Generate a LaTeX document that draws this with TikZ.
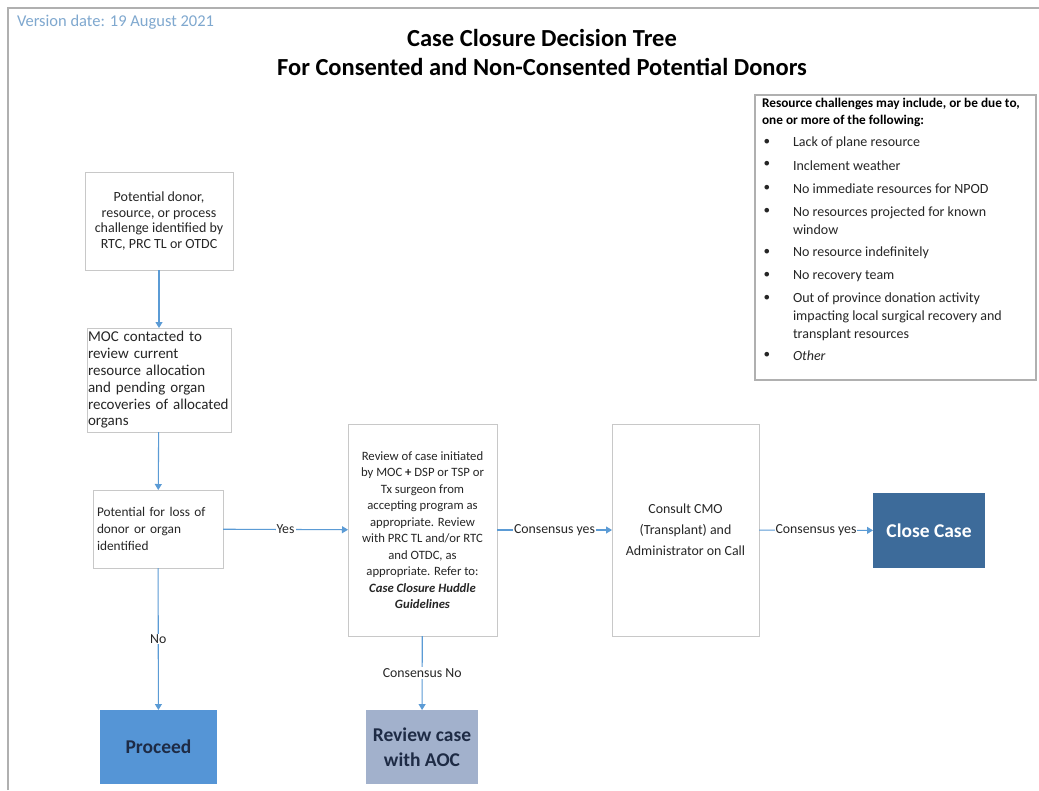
\documentclass[tikz,border=0pt]{standalone}
\usepackage{fontspec}
\setmainfont{Carlito}
\usetikzlibrary{arrows.meta,shadows}
\definecolor{lineblue}{HTML}{5B9BD5}
\definecolor{framegray}{HTML}{B0B0B0}
\definecolor{boxgray}{HTML}{C8C8C8}
\definecolor{verblue}{HTML}{7FA8CF}
\definecolor{procblue}{HTML}{5595D6}
\definecolor{procnavy}{HTML}{1E2B45}
\definecolor{closeblue}{HTML}{3D6B9A}
\definecolor{aocgray}{HTML}{A2B1CC}
\definecolor{txt}{HTML}{262626}
\begin{document}
\begin{tikzpicture}[x=1pt,y=-1pt,
  every node/.style={inner sep=0pt,outer sep=0pt,text=txt},
  wbox/.style={draw=boxgray,line width=0.8pt,fill=white,
     drop shadow={shadow xshift=1.2pt,shadow yshift=-1.2pt,fill=black!18,opacity=0.6},
     font=\fontsize{13.4}{17}\selectfont},
  flow/.style={draw=lineblue,line width=1.1pt,-{Triangle[width=7pt,length=6pt]}},
  lab/.style={fill=white,inner sep=1pt,font=\fontsize{13.8}{15}\selectfont},
  endbox/.style={font=\bfseries\fontsize{19.5}{25}\selectfont,align=center},
  legtxt/.style={anchor=west,font=\fontsize{14}{18}\selectfont,align=left},
  bul/.style={anchor=center,font=\fontsize{10}{12}\selectfont}
]
\useasboundingbox (0,0) rectangle (1039,790);
\fill[white] (0,0) rectangle (1039,790);
% page frame
\draw[framegray,line width=1.5pt] (8,790) coordinate (fbl) -- (8,8) coordinate (ftl) -- (1039,8) coordinate (ftr);

\node[anchor=west,text=verblue,font=\fontsize{16.5}{18}\selectfont] (ver) at (17,22) {Version date: 19 August 2021};
\node[font=\bfseries\fontsize{24.5}{29}\selectfont,align=center,text=black] (title) at (542,52)
  {Case Closure Decision Tree\\For Consented and Non-Consented Potential Donors};

% flow boxes
\node[wbox,minimum width=148pt,minimum height=98pt,align=center,font=\fontsize{14}{15.6}\selectfont] (b1) at (159,221)
  {Potential donor,\\resource, or process\\challenge identified by\\RTC, PRC TL or OTDC};
\node[wbox,minimum width=144pt,minimum height=104pt,text width=142pt,align=left,font=\fontsize{15}{16.8}\selectfont] (b2) at (159,380)
  {MOC contacted to\\review current\\resource allocation\\and pending organ\\recoveries of allocated\\organs};
\node[wbox,minimum width=130pt,minimum height=78pt,text width=122pt,align=left,font=\fontsize{13.3}{17}\selectfont] (b3) at (158,529)
  {Potential for loss of\\donor or organ\\identified};
\node[wbox,minimum width=149pt,minimum height=212pt,align=center,font=\fontsize{12.7}{16.5}\selectfont] (b4) at (422.5,530)
  {Review of case initiated\\by MOC \textbf{+} DSP or TSP or\\Tx surgeon from\\accepting program as\\appropriate. Review\\with PRC TL and/or RTC\\and OTDC, as\\appropriate. Refer to:\\\textbf{\textit{Case Closure Huddle}}\\\textbf{\textit{Guidelines}}};
\node[wbox,minimum width=147pt,minimum height=212pt,align=center,font=\fontsize{13.9}{21}\selectfont] (b5) at (685.5,530)
  {Consult CMO\\(Transplant) and\\Administrator on Call};

% end boxes
\node[endbox,fill=procblue,text=procnavy,minimum width=117pt,minimum height=74pt] (proc) at (158.5,747) {Proceed};
\node[endbox,fill=aocgray,text=procnavy,minimum width=112pt,minimum height=74pt] (aoc) at (422,747) {Review case\\with AOC};
\node[endbox,fill=closeblue,text=white,minimum width=112pt,minimum height=75pt] (close) at (929,530.5) {Close Case};

% connectors
\draw[flow] (b1) -- (b2);
\draw[flow] (b2) -- (b3);
\draw[flow] (b3) -- node[lab] (lyes) {Yes} (b4);
\draw[flow] (b3) -- node[lab,pos=0.5] (lno) {No} (proc);
\draw[flow] (b4) -- node[lab] (lcy1) {Consensus yes} (b5);
\draw[flow] (b5) -- node[lab] (lcy2) {Consensus yes} (close);
\draw[flow] (b4) -- node[lab] (lcn) {Consensus No} (aoc);

% legend
\node[draw=framegray,line width=1.5pt,fill=white,minimum width=281pt,minimum height=285pt,
  drop shadow={shadow xshift=1pt,shadow yshift=-1pt,fill=black!15,opacity=0.5}] (leg) at (895.5,237.5) {};
\node[legtxt,font=\bfseries\fontsize{13.3}{17}\selectfont,text=black] (lh) at (762,112.5)
  {Resource challenges may include, or be due to,\\one or more of the following:};
\node[bul] (d1) at (767,142) {●};
\node[legtxt] (t1) at (793,143) {Lack of plane resource};
\node[bul] (d2) at (767,164) {●};
\node[legtxt] (t2) at (793,165.5) {Inclement weather};
\node[bul] (d3) at (767,188) {●};
\node[legtxt] (t3) at (793,189) {No immediate resources for NPOD};
\node[bul] (d4) at (767,211) {●};
\node[legtxt] (t4) at (793,221) {No resources projected for known\\window};
\node[bul] (d5) at (767,252) {●};
\node[legtxt] (t5) at (793,253) {No resource indefinitely};
\node[bul] (d6) at (767,275) {●};
\node[legtxt] (t6) at (793,276) {No recovery team};
\node[bul] (d7) at (767,298) {●};
\node[legtxt] (t7) at (793,317) {Out of province donation activity\\impacting local surgical recovery and\\transplant resources};
\node[bul] (d8) at (767,355) {●};
\node[legtxt,font=\itshape\fontsize{14}{18}\selectfont] (t8) at (793,356) {Other};
\end{tikzpicture}
\end{document}
